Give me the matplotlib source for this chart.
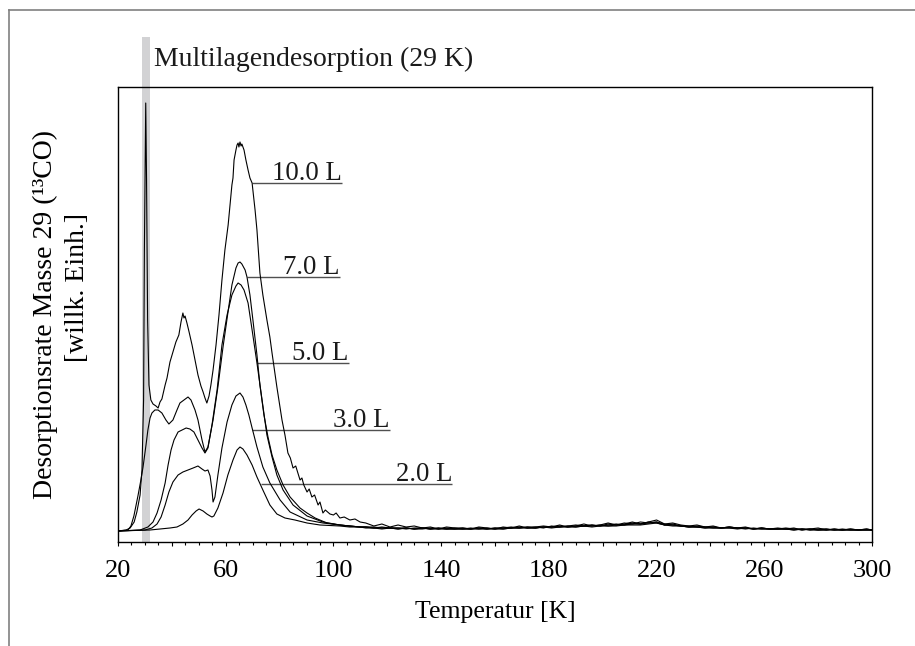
import matplotlib
matplotlib.use("Agg")
import matplotlib.pyplot as plt
import matplotlib.transforms as mtransforms
from matplotlib.lines import Line2D

plt.rcParams['font.family'] = ['Liberation Serif', 'DejaVu Serif']
plt.rcParams['font.size'] = 18

# ---------------- data (temperature in K, desorption rate in arb. units) ----------------
T_10 = [20, 23, 24.5, 26, 27, 28.2, 28.9, 29.5, 29.8, 30.3, 30.6, 31.0, 31.5, 32.2, 33.0,
        34.1, 34.9, 35.6, 36.3, 37.5, 38.2, 39.3, 40.4, 41.5, 42.6, 43.4, 44.1, 44.5, 44.9,
        45.6, 46.4, 47.5, 48.6, 49.7, 50.8, 51.6, 52.3, 53.0, 53.8, 54.5, 55.3, 56.4, 57.5,
        58.6, 59.7, 60.9, 61.6, 62.3, 62.7, 63.1, 63.8, 64.2, 64.6, 64.9, 65.3, 65.7, 66.0,
        66.8, 67.5, 68.3, 69.0, 69.8, 70.9, 71.6, 72.7, 73.8, 75.3, 76.4, 77.2, 79.0, 80.9,
        82.0, 83.1, 84.0, 85.0, 86.0, 87.6, 88.3, 89.0, 90.2, 91.0, 92.0, 93.0, 94.3, 95.0,
        96.1, 97.0, 98.7, 100.0, 101.0, 102.4, 104.0, 106.1, 108.0, 109.9]
Y_10 = [1, 2, 4, 10, 20, 37, 62, 132, 282, 429, 352, 212, 147, 132, 128,
        126, 124, 130, 133, 147, 154, 170, 180, 190, 197, 210, 219, 214, 216,
        209, 200, 187, 172, 157, 146, 140, 134, 129, 136, 147, 162, 187, 217,
        252, 282, 307, 327, 347, 354, 372, 382, 387, 389, 385, 390, 386, 388,
        382, 372, 362, 354, 349, 322, 302, 259, 237, 212, 195, 179, 145, 112,
        97, 79, 74, 64, 66, 52, 54, 47, 40, 43, 35, 37, 27, 30,
        19, 22, 18, 17, 19, 14, 15, 12, 13, 10]

T_7 = [20, 23.7, 24.8, 25.9, 27.4, 28.5, 29.3, 30.4, 31.1, 31.9, 32.6, 33.7, 34.9, 36.3,
       37.8, 38.9, 40.4, 41.9, 43.0, 44.5, 46.0, 47.1, 48.6, 49.7, 51.2, 52.3, 53.4, 55.3,
       57.1, 59.0, 60.8, 62.3, 63.8, 64.6, 65.3, 66.0, 67.2, 67.9, 69.0, 70.1, 71.6, 72.7,
       74.2, 75.7, 77.2, 79.0, 81.3, 83.9, 87.6, 90.2, 93.2, 97.6, 102.4, 106.0, 109.9]
Y_7 = [1, 2, 6, 16, 36, 52, 65, 87, 102, 114, 119, 122, 122, 119,
       112, 108, 112, 122, 129, 132, 135, 132, 122, 112, 92, 80, 85, 112,
       145, 185, 219, 247, 264, 269, 270, 268, 262, 255, 237, 212, 177, 147,
       117, 95, 77, 62, 47, 35, 24, 19, 14, 9, 7, 6, 5]

T_5 = [20, 28.2, 31.1, 33.0, 34.5, 36.0, 37.5, 38.6, 39.7, 40.8, 42.3, 43.8, 45.3, 46.7,
       48.2, 49.7, 51.2, 52.3, 53.4, 54.9, 56.8, 58.6, 60.5, 62.3, 63.8, 64.6, 65.7, 66.8,
       68.3, 69.8, 71.6, 73.5, 75.3, 77.2, 79.0, 81.3, 85.0, 90.2, 96.1, 102.4, 106.0, 109.9]
Y_5 = [1, 2, 5, 10, 19, 32, 49, 67, 82, 92, 100, 102, 104, 103,
       100, 92, 84, 79, 84, 107, 142, 187, 217, 237, 246, 249, 247, 242,
       229, 202, 169, 132, 97, 75, 57, 42, 27, 16, 10, 7, 6, 5]

T_3 = [20, 30.0, 32.6, 34.5, 36.0, 37.5, 38.9, 40.4, 42.3, 44.1, 46.0, 47.9, 49.7, 51.2,
       52.3, 53.4, 54.2, 54.9, 55.3, 56.0, 57.1, 58.6, 60.5, 62.3, 63.8, 65.3, 66.4, 67.5,
       68.6, 69.8, 71.6, 73.8, 76.4, 80.2, 83.9, 90.2, 96.1, 102.4, 106.0, 109.9]
Y_3 = [1, 2, 4, 8, 15, 27, 40, 50, 57, 60, 62, 64, 66, 63,
       61, 62, 56, 42, 30, 35, 57, 84, 110, 127, 136, 139, 135, 127,
       117, 104, 85, 65, 49, 32, 20, 12, 9, 7, 6, 5]

T_2 = [20, 31.9, 35.6, 39.3, 41.9, 44.1, 46.0, 47.5, 49.0, 50.1, 51.6, 53.0, 54.2, 54.9,
       55.6, 57.1, 59.0, 60.8, 62.7, 64.2, 65.3, 66.4, 67.9, 69.8, 71.6, 73.8, 76.4, 79.0,
       82.0, 85.7, 90.2, 95.0, 102.4, 106.0, 109.9]
Y_2 = [1, 2, 3, 4, 5, 8, 12, 17, 21, 23, 21, 18, 16, 15,
       16, 24, 39, 57, 72, 82, 85, 83, 77, 67, 55, 42, 27, 18,
       14, 12, 9, 7, 6, 5, 5]

# common temperature grid of the noisy high-temperature tail
T_tail = [112, 115, 118, 121, 124, 127, 130, 133, 136, 139,
          142, 145, 148, 151, 154, 157, 160, 163, 166, 169,
          172, 175, 178, 181, 184, 187, 190, 193, 196, 199,
          202, 205, 208, 211, 214, 217, 220, 223, 226, 229,
          232, 235, 238, 241, 244, 247, 250, 253, 256, 259,
          262, 265, 268, 271, 274, 277, 280, 283, 286, 289,
          292, 295, 298, 300]
Y_tail_10 = [9, 6, 8, 5, 7, 5, 6, 4, 5, 3, 5, 4, 4, 3, 5, 4, 3, 5, 4, 6,
             4, 5, 6, 5, 7, 5, 6, 8, 6, 7, 9, 7, 8, 10, 8, 10, 12, 8, 9, 7,
             6, 7, 5, 6, 4, 5, 4, 5, 3, 4, 3, 4, 3, 4, 2, 3, 4, 2, 3, 2,
             3, 2, 3, 2]
Y_tail_7 = [5, 4, 5, 4, 4, 3, 4, 4, 3, 4, 3, 4, 3, 3, 4, 3, 4, 4, 5, 4,
            5, 5, 4, 6, 5, 6, 7, 6, 7, 6, 8, 7, 9, 8, 10, 9, 10, 7, 8, 6,
            5, 6, 5, 5, 4, 5, 4, 4, 3, 4, 3, 3, 4, 3, 3, 2, 3, 3, 2, 3,
            2, 2, 3, 2]
Y_tail_5 = [4, 4, 3, 4, 3, 4, 3, 3, 4, 3, 3, 3, 4, 3, 3, 4, 3, 4, 4, 4,
            5, 4, 5, 5, 6, 5, 6, 6, 7, 6, 7, 8, 7, 9, 8, 10, 9, 7, 7, 6,
            5, 5, 4, 5, 4, 4, 4, 3, 4, 3, 3, 3, 3, 2, 3, 3, 2, 2, 3, 2,
            2, 2, 2, 2]
Y_tail_3 = [5, 4, 4, 4, 3, 4, 3, 4, 3, 3, 4, 3, 3, 4, 3, 3, 4, 3, 4, 5,
            4, 4, 5, 5, 5, 6, 5, 6, 6, 7, 6, 7, 7, 8, 8, 9, 10, 8, 7, 6,
            6, 5, 5, 4, 4, 5, 4, 4, 3, 4, 3, 3, 3, 3, 2, 3, 2, 3, 2, 2,
            3, 2, 2, 2]
Y_tail_2 = [5, 5, 4, 4, 4, 4, 3, 4, 3, 4, 3, 3, 3, 3, 4, 3, 3, 3, 4, 4,
            4, 4, 5, 4, 5, 5, 5, 6, 5, 6, 6, 6, 7, 7, 7, 8, 9, 7, 6, 6,
            5, 5, 4, 4, 4, 4, 3, 4, 3, 3, 3, 3, 3, 2, 3, 2, 2, 2, 2, 2,
            2, 2, 2, 2]

# exposure labels and their leader lines
labels = ['10.0 L', '7.0 L', '5.0 L', '3.0 L', '2.0 L']
label_y = [349, 255, 169, 102, 48]
label_T0 = [69.8, 67.9, 71.6, 69.8, 73.1]
label_T1 = [103.2, 102.4, 105.6, 121.0, 144.1]

band_T = (28.8, 31.9)          # multilayer desorption region
band_text = 'Multilagendesorption (29 K)'

xticks_major = list(range(20, 301, 20))
xtick_labels = [str(t) if (t - 20) % 40 == 0 else '' for t in xticks_major]

# ---------------- figure ----------------
W, H = 915, 646
fig = plt.figure(figsize=(W / 100, H / 100), dpi=100)
ax = fig.add_axes([118 / W, 1 - 541.7 / H, (872 - 118) / W, (541.7 - 87.3) / H])

# outer frame (partially visible)
fig.add_artist(Line2D([9 / W, 9 / W], [0, 1 - 10 / H], transform=fig.transFigure,
                      color='#808080', lw=1.2))
fig.add_artist(Line2D([9 / W, 1], [1 - 10 / H, 1 - 10 / H], transform=fig.transFigure,
                      color='#808080', lw=1.2))

ax.axvspan(band_T[0], band_T[1], ymin=0, ymax=(541.7 - 36.7) / (541.7 - 87.3),
           color='#d2d2d4', lw=0, zorder=0, clip_on=False)

series = [(T_10, Y_10, Y_tail_10), (T_7, Y_7, Y_tail_7), (T_5, Y_5, Y_tail_5),
          (T_3, Y_3, Y_tail_3), (T_2, Y_2, Y_tail_2)]
for T, Y, Yt in series:
    ax.plot(T + T_tail, Y + Yt, color='black', lw=0.8, zorder=3)

for lab, y, t0, t1 in zip(labels, label_y, label_T0, label_T1):
    ax.plot([t0, t1], [y, y], color='#505050', lw=1.0, zorder=2, solid_capstyle='butt')
    ax.annotate(lab, xy=(t1, y), xytext=(0, 2.5), textcoords='offset points',
                ha='right', va='baseline', fontsize=19.3, color='#1a1a1a')

trans = mtransforms.blended_transform_factory(ax.transData, ax.transAxes)
ax.text(33.3, 1.047, band_text, transform=trans, ha='left', va='baseline',
        fontsize=20, color='#1a1a1a')

ax.set_xlim(20, 300)
ax.set_ylim(-9.7, 444.7)
ax.set_xticks(xticks_major)
ax.set_xticklabels(xtick_labels)
ax.set_xticks(list(range(20, 301, 5)), minor=True)
ax.tick_params(axis='x', which='major', direction='out', length=3.0, width=0.8,
               pad=10.5, labelsize=19, colors='black')
ax.tick_params(axis='x', which='minor', direction='out', length=2.0, width=0.8)
ax.set_yticks([])
for sp in ax.spines.values():
    sp.set_linewidth(1.0)
    sp.set_color('black')

fig.text(495 / W, 1 - 612 / H, 'Temperatur [K]', ha='center', va='center', fontsize=18.5)
fig.text(45 / W, 1 - 314 / H, 'Desorptionsrate Masse 29 (\u00b9\u00b3CO)', rotation=90,
         ha='center', va='center', fontsize=20)
fig.text(77 / W, 1 - 288 / H, '[willk. Einh.]', rotation=90,
         ha='center', va='center', fontsize=20)

fig.savefig('out.png', dpi=100)
